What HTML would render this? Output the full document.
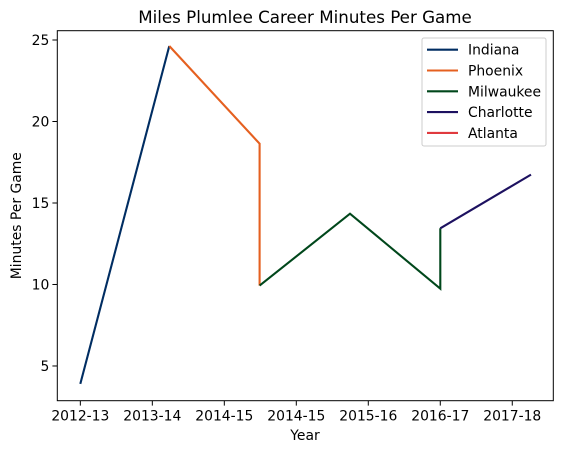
<!DOCTYPE html>
<html><head><meta charset="utf-8"><style>
body{margin:0;background:#fff;}
svg text{font-family:"DejaVu Sans","Liberation Sans",sans-serif;fill:#000;}
</style></head><body>
<svg id="chart" width="566" height="453" viewBox="0 0 566 453" xmlns="http://www.w3.org/2000/svg">
<rect width="566" height="453" fill="#fff"/>
<text x="305" y="23" font-size="16.7" text-anchor="middle">Miles Plumlee Career Minutes Per Game</text>
<g id="series"></g>
<rect x="57.3" y="30.7" width="496" height="370" fill="none" stroke="#000" stroke-width="1"/>
<g id="xticks"></g>
<g id="yticks"></g>
<text x="305" y="440" font-size="13.9" text-anchor="middle">Year</text>
<text transform="translate(21,215.7) rotate(-90)" font-size="13.9" text-anchor="middle">Minutes Per Game</text>
<g id="legend"></g>
</svg>
<script>
const tickLabels = ["2012-13","2013-14","2014-15","2014-15","2015-16","2016-17","2017-18"];
const yTicks = [5,10,15,20,25];
const teams = ["Indiana","Phoenix","Milwaukee","Charlotte","Atlanta"];
const colors = ["#002D62","#E56020","#00471B","#1D1160","#E03A3E"];
const indianaX = [0,1.236];
const indianaY = [3.9,24.63];
const phoenixX = [1.236,2.49,2.49];
const phoenixY = [24.63,18.64,9.93];
const milwaukeeX = [2.49,3.746,5.0,5.0];
const milwaukeeY = [9.93,14.34,9.74,13.45];
const charlotteX = [5.0,6.26];
const charlotteY = [13.45,16.74];
const atlantaX = [];
const atlantaY = [];

const NS="http://www.w3.org/2000/svg";
const L=57.3,R=553.3,T=30.7,B=400.7;
const xMin=-0.32,xMax=6.57,yMin=2.87,yMax=25.57;
const xs=v=>L+(v-xMin)/(xMax-xMin)*(R-L);
const ys=v=>B-(v-yMin)/(yMax-yMin)*(B-T);
function mk(t,a){const e=document.createElementNS(NS,t);for(const k in a)e.setAttribute(k,a[k]);return e;}

const xg=document.getElementById('xticks');
tickLabels.forEach((lab,i)=>{
  const x=xs(i);
  const ln=mk('line',{x1:x,x2:x,y1:B,y2:B+4.9,stroke:'#000'});
  
  
  xg.appendChild(ln);
  const t=mk('text',{x:x,y:B+20,'font-size':13.9,'text-anchor':'middle'});
  
  
  t.textContent=lab;xg.appendChild(t);
});
const yg=document.getElementById('yticks');
yTicks.forEach(v=>{
  const y=ys(v);
  const ln=mk('line',{x1:L-4.9,x2:L,y1:y,y2:y,stroke:'#000'});
  
  
  yg.appendChild(ln);
  const t=mk('text',{x:L-8,y:y+5,'font-size':13.9,'text-anchor':'end'});
  
  
  t.textContent=v;yg.appendChild(t);
});
const sg=document.getElementById('series');
const seriesX=[indianaX,phoenixX,milwaukeeX,charlotteX,atlantaX];
const seriesY=[indianaY,phoenixY,milwaukeeY,charlotteY,atlantaY];
teams.forEach((name,i)=>{
  if(!seriesX[i].length)return;
  const pts=seriesX[i].map((x,j)=>xs(x).toFixed(1)+','+ys(seriesY[i][j]).toFixed(1)).join(' ');
  const p=mk('polyline',{points:pts,fill:'none',stroke:colors[i],'stroke-width':2.1,'stroke-linejoin':'miter'});
  
  
  sg.appendChild(p);
});
const lg=document.getElementById('legend');
const box=mk('rect',{x:422,y:38,width:124,height:108,rx:2,fill:'#fff','fill-opacity':0.8,stroke:'#ccc'});


lg.appendChild(box);
teams.forEach((name,i)=>{
  const y=49.7+i*20.8;
  const ln=mk('line',{x1:427,x2:458,y1:y,y2:y,stroke:colors[i],'stroke-width':2.1});
  
  
  lg.appendChild(ln);
  const t=mk('text',{x:468,y:y+5,'font-size':13.9});
  
  
  t.textContent=name;lg.appendChild(t);
});
</script>
</body></html>
